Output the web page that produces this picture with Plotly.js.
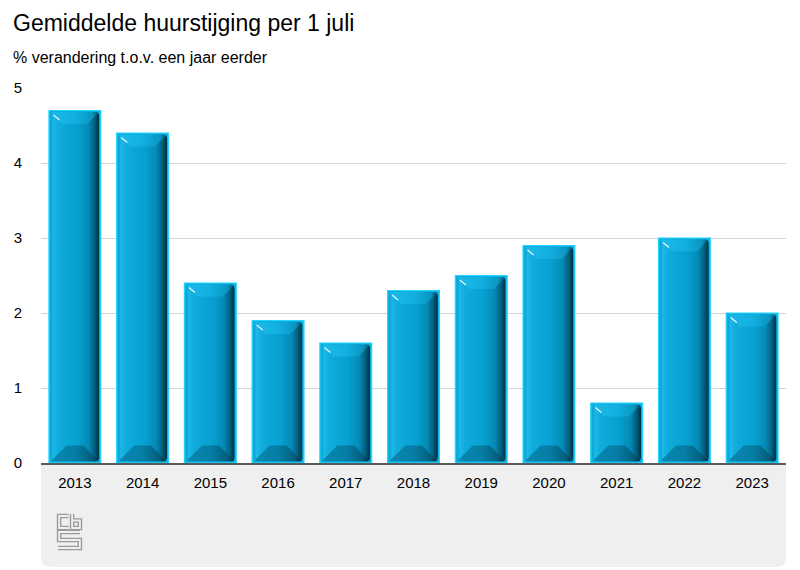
<!DOCTYPE html>
<html>
<head>
<meta charset="utf-8">
<script src="https://cdn.plot.ly/plotly-3.0.1.min.js"></script>
<style>
  html, body { margin: 0; padding: 0; background: #fff; }
  #chart { width: 800px; height: 570px; }
</style>
</head>
<body>
<div id="chart"></div>
<script>
// ---- Data ----
var years = ['2013','2014','2015','2016','2017','2018','2019','2020','2021','2022','2023'];
var huurstijging = [4.7, 4.4, 2.4, 1.9, 1.6, 2.3, 2.5, 2.9, 0.8, 3.0, 2.0];
var yTicks = [0, 1, 2, 3, 4, 5];

var chartTitle = 'Gemiddelde huurstijging per 1 juli';
var chartSubtitle = '% verandering t.o.v. een jaar eerder';

var FONT = 'Liberation Sans, Arial, Helvetica, sans-serif';

// CBS-like logo as inline SVG (outlined strokes)
var logoSvg = '<svg xmlns="http://www.w3.org/2000/svg" width="26" height="38" viewBox="0 0 26 38">' +
  '<g fill="none" stroke-linejoin="miter" stroke-linecap="butt">' +
  '<path d="M12,3 H3 V15 H12 M15.5,1 V15 H23 V7.5 H15.5 M23,19 H3 V27 H23 V35 H2" stroke="#9a9a9a" stroke-width="4.4"/>' +
  '<path d="M12,3 H3 V15 H12 M15.5,1 V15 H23 V7.5 H15.5 M23,19 H3 V27 H23 V35 H2" stroke="#efefef" stroke-width="1.8"/>' +
  '</g></svg>';
var logoUri = 'data:image/svg+xml;charset=utf-8,' + encodeURIComponent(logoSvg);

var W = 800, H = 570;
var mL = 41, mR = 14, mT = 88, mB = 107;
var pw = W - mL - mR, ph = H - mT - mB;
// grey footer box in paper units (rounded bottom corners)
var boxBottom = -(567 - 463) / ph;
var rx = 10 / pw, ry = 10 / ph;
var boxPath = 'M 0 0 L 1 0 L 1 ' + (boxBottom + ry) +
  ' Q 1 ' + boxBottom + ' ' + (1 - rx) + ' ' + boxBottom +
  ' L ' + rx + ' ' + boxBottom +
  ' Q 0 ' + boxBottom + ' 0 ' + (boxBottom + ry) + ' Z';

var trace = {
  type: 'bar',
  x: years,
  y: huurstijging,
  marker: { color: '#0aa3d3', line: { color: '#22d4ff', width: 1.2 } },
  hoverinfo: 'x+y'
};

var layout = {
  width: W, height: H,
  margin: { l: mL, r: mR, t: mT, b: mB, pad: 0 },
  paper_bgcolor: '#ffffff',
  plot_bgcolor: '#ffffff',
  bargap: 0.235,
  showlegend: false,
  font: { family: FONT, size: 15, color: '#000' },
  title: {
    text: chartTitle,
    x: 13 / W, xanchor: 'left', xref: 'container',
    y: 1 - 23 / H, yanchor: 'middle', yref: 'container',
    font: { family: FONT, size: 23, color: '#000' }
  },
  xaxis: {
    type: 'category',
    showgrid: false,
    showline: true, linecolor: '#5a5a5a', linewidth: 2,
    ticks: 'outside', ticklen: 5, tickcolor: 'rgba(0,0,0,0)',
    tickfont: { family: FONT, size: 15, color: '#000' },
    fixedrange: true
  },
  yaxis: {
    range: [0, 5],
    tickvals: yTicks,
    showgrid: true, gridcolor: '#d3d3d3', gridwidth: 1,
    zeroline: false, showline: false,
    ticks: 'outside', ticklen: 15, tickcolor: 'rgba(0,0,0,0)',
    tickfont: { family: FONT, size: 15, color: '#000' },
    fixedrange: true
  },
  shapes: [{
    type: 'path', xref: 'paper', yref: 'paper', path: boxPath,
    fillcolor: '#efefef', line: { width: 0 }, layer: 'below'
  }],
  annotations: [{
    text: chartSubtitle, xref: 'paper', yref: 'paper',
    x: (11 - mL) / pw, xanchor: 'left',
    y: 1 + (mT - 58) / ph, yanchor: 'middle',
    showarrow: false, font: { family: FONT, size: 16, color: '#000' }
  }],
  images: [{
    source: logoUri, xref: 'paper', yref: 'paper',
    x: (56 - mL) / pw, y: -(513 - 463) / ph,
    sizex: 27 / pw, sizey: 38 / ph,
    xanchor: 'left', yanchor: 'top', sizing: 'stretch', layer: 'above'
  }]
};

Plotly.newPlot('chart', [trace], layout, { displayModeBar: false, staticPlot: true }).then(function (gd) {
  var NS = 'http://www.w3.org/2000/svg';
  var svg = gd.querySelector('svg.main-svg');
  var defs = svg.querySelector('defs') || svg.insertBefore(document.createElementNS(NS, 'defs'), svg.firstChild);

  function grad(id, stops, horiz) {
    var g = document.createElementNS(NS, 'linearGradient');
    g.setAttribute('id', id);
    g.setAttribute('x1', '0'); g.setAttribute('y1', '0');
    g.setAttribute('x2', horiz ? '1' : '0'); g.setAttribute('y2', horiz ? '0' : '1');
    stops.forEach(function (s) {
      var st = document.createElementNS(NS, 'stop');
      st.setAttribute('offset', s[0]);
      st.setAttribute('stop-color', s[1]);
      if (s[2] !== undefined) st.setAttribute('stop-opacity', s[2]);
      g.appendChild(st);
    });
    defs.appendChild(g);
  }
  grad('barBody', [[0, '#0e9fcf'], [0.06, '#1cb8e8'], [0.16, '#10acdc'], [0.55, '#07a0d0'], [0.78, '#0489b5'], [0.9, '#02607f'], [1, '#00303f']], true);
  grad('barTop', [[0, '#1cb9e9'], [0.5, '#12b0e1'], [0.85, '#0a96c2'], [1, '#04506a']], true);
  grad('barBottom', [[0, '#0888b2'], [0.5, '#067ea6'], [0.85, '#035e7c'], [1, '#002a38']], true);

  var paths = gd.querySelectorAll('.barlayer .point path');
  paths.forEach(function (p) {
    var b = p.getBBox();
    var x = b.x + 1.5, y = b.y + 1.5, w = b.width - 3, h = b.height - 3;
    var parent = p.parentNode;
    var body = document.createElementNS(NS, 'rect');
    body.setAttribute('x', x); body.setAttribute('y', y);
    body.setAttribute('width', w); body.setAttribute('height', h);
    body.setAttribute('rx', 4); body.setAttribute('ry', 4);
    body.setAttribute('fill', 'url(#barBody)');
    var clipId = 'clip' + Math.round(x);
    var cp = document.createElementNS(NS, 'clipPath');
    cp.setAttribute('id', clipId);
    var cr = body.cloneNode(); cr.removeAttribute('fill');
    cp.appendChild(cr); defs.appendChild(cp);
    var g = document.createElementNS(NS, 'g');
    g.setAttribute('clip-path', 'url(#' + clipId + ')');
    g.appendChild(body);
    var bt = Math.min(12, h / 2), bb = Math.min(16, h / 2);
    var top = document.createElementNS(NS, 'polygon');
    top.setAttribute('points', [x, y, x + w, y, x + w - bt, y + bt, x + bt, y + bt].join(' '));
    top.setAttribute('fill', 'url(#barTop)');
    g.appendChild(top);
    var bot = document.createElementNS(NS, 'polygon');
    bot.setAttribute('points', [x, y + h, x + w, y + h, x + w - bb, y + h - bb, x + bb, y + h - bb].join(' '));
    bot.setAttribute('fill', 'url(#barBottom)');
    g.appendChild(bot);
    var hl = document.createElementNS(NS, 'line');
    hl.setAttribute('x1', x + 3); hl.setAttribute('y1', y + 3);
    hl.setAttribute('x2', x + 9); hl.setAttribute('y2', y + 8);
    hl.setAttribute('stroke', '#ffffff'); hl.setAttribute('stroke-width', 1.2);
    hl.setAttribute('stroke-opacity', 0.9);
    g.appendChild(hl);
    p.setAttribute('style', (p.getAttribute('style') || '') + ';fill:#0ab0e0;');
    parent.appendChild(g);
  });
});
</script>
</body>
</html>
